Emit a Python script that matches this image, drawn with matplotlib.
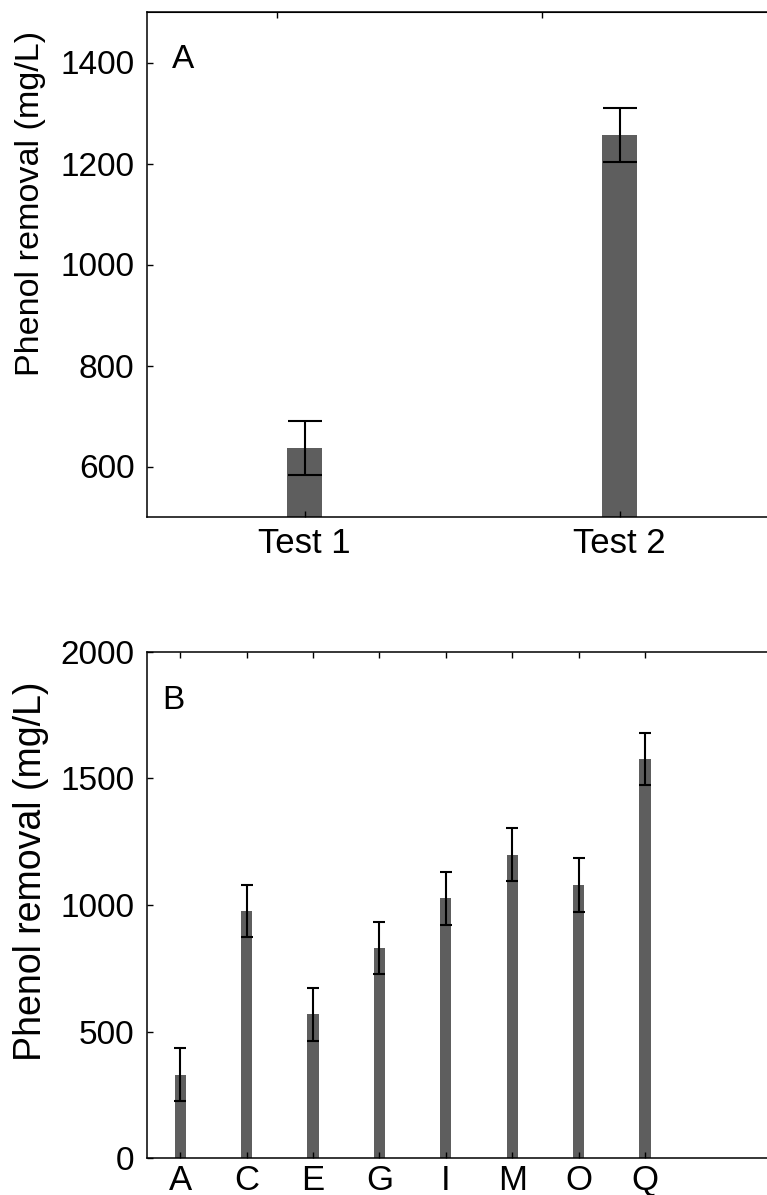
import matplotlib.pyplot as plt

plt.rcParams['font.family'] = ['Liberation Sans', 'DejaVu Sans']

# panel A data
tests = ['Test 1', 'Test 2']
removal_a = [637, 1256]
err_a = [53, 53]
top_ticks_a = [0.913, 1.754]

# panel B data
strains = ['A', 'C', 'E', 'G', 'I', 'M', 'O', 'Q']
removal_b = [330, 976, 568, 831, 1026, 1198, 1079, 1576]
err_b = [104, 103, 104, 102, 104, 105, 106, 103]

bar_color = '#5e5e5e'
fs = 24
W, H = 767, 1195
fig = plt.figure(figsize=(W / 100, H / 100), dpi=100)

# axes run off the right edge of the picture, like the cropped original
ax1 = fig.add_axes([147 / W, 1 - 517 / H, 620 / W, 505 / H])
ax2 = fig.add_axes([147 / W, 1 - 1158 / H, 620 / W, 506 / H])


def style(ax, label_fs, label_xy, xpad):
    ax.spines['right'].set_visible(False)
    for s in ['left', 'top', 'bottom']:
        ax.spines[s].set_linewidth(1.1)
    ax.tick_params(direction='in', length=4, width=1, labelsize=fs)
    ax.tick_params(axis='y', pad=9)
    ax.tick_params(axis='x', pad=xpad, labelsize=25)
    ax.set_ylabel('Phenol removal (mg/L)', fontsize=label_fs)
    ax.yaxis.set_label_coords(*label_xy)


# --- panel A
xa = list(range(1, len(tests) + 1))
ax1.bar(xa, removal_a, width=0.108, color=bar_color)
ax1.errorbar(xa, removal_a, yerr=err_a, fmt='none', ecolor='black',
             elinewidth=1.5, capsize=12, capthick=1.5)
ax1.set_xlim(0.5, 0.5 + 620 / 315)
ax1.set_ylim(500, 1500)
ax1.set_yticks([600, 800, 1000, 1200, 1400])
ax1.set_xticks(xa)
ax1.set_xticklabels(tests)
style(ax1, 24.6, (-0.163, 0.62), 7)
sec = ax1.secondary_xaxis('top')
sec.set_xticks(top_ticks_a)
sec.set_xticklabels([])
sec.tick_params(direction='in', length=4, width=1)
ax1.text(0.058, 0.905, 'A', transform=ax1.transAxes, fontsize=fs,
         ha='center', va='center')

# --- panel B
xb = list(range(1, len(strains) + 1))
ax2.bar(xb, removal_b, width=0.17, color=bar_color)
ax2.errorbar(xb, removal_b, yerr=err_b, fmt='none', ecolor='black',
             elinewidth=1.5, capsize=4, capthick=1.5)
ax2.set_xlim(0.5, 0.5 + 620 / 66.4)
ax2.set_ylim(0, 2000)
ax2.set_yticks([0, 500, 1000, 1500, 2000])
ax2.set_xticks(xb)
ax2.set_xticklabels(strains)
ax2.tick_params(top=True)
style(ax2, 27, (-0.158, 0.567), 4)
ax2.text(0.042, 0.905, 'B', transform=ax2.transAxes, fontsize=fs,
         ha='center', va='center')

fig.savefig('out.png', dpi=100)
